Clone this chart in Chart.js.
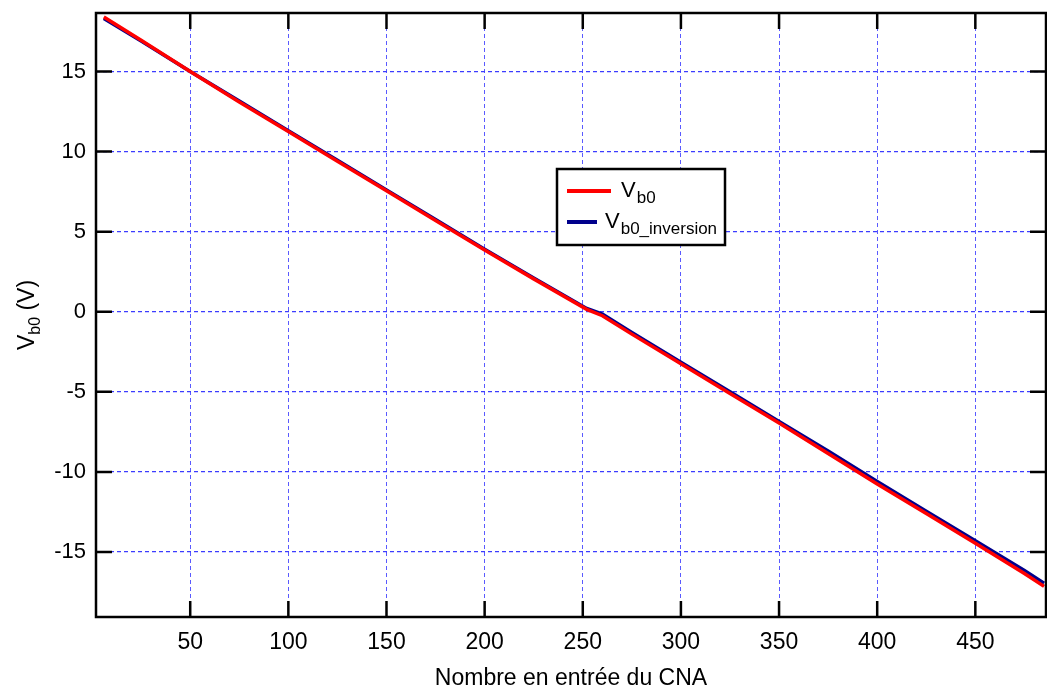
<!DOCTYPE html>
<html>
<head>
<meta charset="utf-8">
<script src="https://cdn.jsdelivr.net/npm/chart.js@4.4.1/dist/chart.umd.min.js"></script>
<style>
html,body{margin:0;padding:0;background:#fff;}
#wrap{width:1047px;height:689px;position:relative;}
</style>
</head>
<body>
<div id="wrap"><canvas id="c" width="1047" height="689"></canvas></div>
<script>
// ---- data ----
const xValues = [6, 25, 50, 75, 100, 125, 150, 175, 200, 225, 252, 260, 275, 300, 325, 350, 375, 400, 425, 450, 475, 485];
const vb0 = [18.4, 16.95, 15.0, 13.1, 11.25, 9.4, 7.55, 5.7, 3.85, 2.05, 0.15, -0.25, -1.4, -3.25, -5.1, -6.95, -8.85, -10.75, -12.6, -14.45, -16.35, -17.15];
const vb0Inversion = [18.3, 16.9, 15.0, 13.15, 11.3, 9.45, 7.6, 5.75, 3.9, 2.1, 0.2, -0.15, -1.3, -3.15, -5.0, -6.85, -8.7, -10.6, -12.45, -14.3, -16.15, -16.95];
const xTicks = [50, 100, 150, 200, 250, 300, 350, 400, 450];
const yTicks = [-15, -10, -5, 0, 5, 10, 15];
const seriesNames = [["V", "b0"], ["V", "b0_inversion"]];
const xTitle = "Nombre en entrée du CNA";
const yTitle = ["V", "b0", " (V)"];

const FONT = "'Liberation Sans', Arial, sans-serif";
const GRID = '#5a5aff';

const framePlugin = {
  id: 'frame',
  afterDraw(chart) {
    const {ctx, chartArea: a, scales} = chart;
    const xs = scales.x, ys = scales.y;
    ctx.save();
    ctx.strokeStyle = '#000';
    ctx.lineWidth = 2.5;
    const L = 16;
    ctx.beginPath();
    xTicks.forEach(v => {
      const px = xs.getPixelForValue(v);
      ctx.moveTo(px, a.bottom); ctx.lineTo(px, a.bottom - L);
      ctx.moveTo(px, a.top); ctx.lineTo(px, a.top + L);
    });
    yTicks.forEach(v => {
      const py = ys.getPixelForValue(v);
      ctx.moveTo(a.left, py); ctx.lineTo(a.left + L, py);
      ctx.moveTo(a.right, py); ctx.lineTo(a.right - L, py);
    });
    ctx.stroke();
    ctx.lineWidth = 2.5;
    ctx.strokeRect(a.left, a.top, a.right - a.left, a.bottom - a.top);

    // y title with subscript
    ctx.fillStyle = '#000';
    ctx.translate(26, (a.top + a.bottom) / 2);
    ctx.rotate(-Math.PI / 2);
    ctx.textBaseline = 'alphabetic';
    const big = '23px ' + FONT, small = '16px ' + FONT;
    ctx.font = big; const w0 = ctx.measureText(yTitle[0]).width;
    ctx.font = small; const w1 = ctx.measureText(yTitle[1]).width;
    ctx.font = big; const w2 = ctx.measureText(yTitle[2]).width;
    let sx = -(w0 + w1 + w2) / 2;
    const base = 8;
    ctx.font = big; ctx.fillText(yTitle[0], sx, base); sx += w0;
    ctx.font = small; ctx.fillText(yTitle[1], sx, base + 6); sx += w1;
    ctx.font = big; ctx.fillText(yTitle[2], sx, base);
    ctx.restore();

    // legend
    ctx.save();
    const bx = 557, by = 169, bw = 168, bh = 76;
    ctx.fillStyle = '#fff';
    ctx.fillRect(bx, by, bw, bh);
    ctx.strokeStyle = '#000';
    ctx.lineWidth = 2.5;
    ctx.strokeRect(bx, by, bw, bh);
    const rows = [
      {y: 191, x1: 567, x2: 611, tx: 621, base: 197},
      {y: 222, x1: 567, x2: 597, tx: 605, base: 228}
    ];
    chart.data.datasets.forEach((ds, i) => {
      const r = rows[i];
      ctx.strokeStyle = ds.borderColor;
      ctx.lineWidth = 4;
      ctx.beginPath(); ctx.moveTo(r.x1, r.y); ctx.lineTo(r.x2, r.y); ctx.stroke();
      ctx.fillStyle = '#000';
      ctx.font = '22px ' + FONT;
      ctx.fillText(seriesNames[i][0], r.tx, r.base);
      const w = ctx.measureText(seriesNames[i][0]).width;
      ctx.font = '17px ' + FONT;
      ctx.fillText(seriesNames[i][1], r.tx + w + 1, r.base + 6);
    });
    ctx.restore();
  }
};

new Chart(document.getElementById('c'), {
  type: 'line',
  data: {
    datasets: [
      {label: 'Vb0', data: xValues.map((x, i) => ({x, y: vb0[i]})), borderColor: '#ff0000', borderWidth: 3.5, pointRadius: 0, tension: 0, fill: false},
      {label: 'Vb0_inversion', data: xValues.map((x, i) => ({x, y: vb0Inversion[i]})), borderColor: '#00008c', borderWidth: 3.5, pointRadius: 0, tension: 0, fill: false}
    ]
  },
  options: {
    responsive: false,
    animation: false,
    devicePixelRatio: 1,
    layout: {padding: {left: 0, top: 13, right: 1, bottom: 0}},
    plugins: {legend: {display: false}, tooltip: {enabled: false}},
    scales: {
      x: {
        type: 'linear', min: 2, max: 486,
        afterBuildTicks: s => { s.ticks = xTicks.map(v => ({value: v})); },
        afterFit: s => { s.height = 72; s.paddingLeft = 0; s.paddingRight = 0; },
        grid: {color: GRID, lineWidth: 1, drawTicks: false},
        border: {display: false, dash: [4, 3]},
        ticks: {color: '#000', font: {family: FONT, size: 23}, padding: 12, maxRotation: 0},
        title: {display: true, text: xTitle, color: '#000', font: {family: FONT, size: 23}, padding: {top: 5, bottom: -3}}
      },
      y: {
        type: 'linear', min: -19.06, max: 18.65,
        afterBuildTicks: s => { s.ticks = yTicks.map(v => ({value: v})); },
        afterFit: s => { s.width = 96; s.paddingTop = 0; s.paddingBottom = 0; },
        grid: {color: '#3c3cff', lineWidth: 1.2, drawTicks: false},
        border: {display: false, dash: [4, 3]},
        ticks: {color: '#000', font: {family: FONT, size: 22}, padding: 10}
      }
    }
  },
  plugins: [framePlugin]
});
</script>
</body>
</html>
